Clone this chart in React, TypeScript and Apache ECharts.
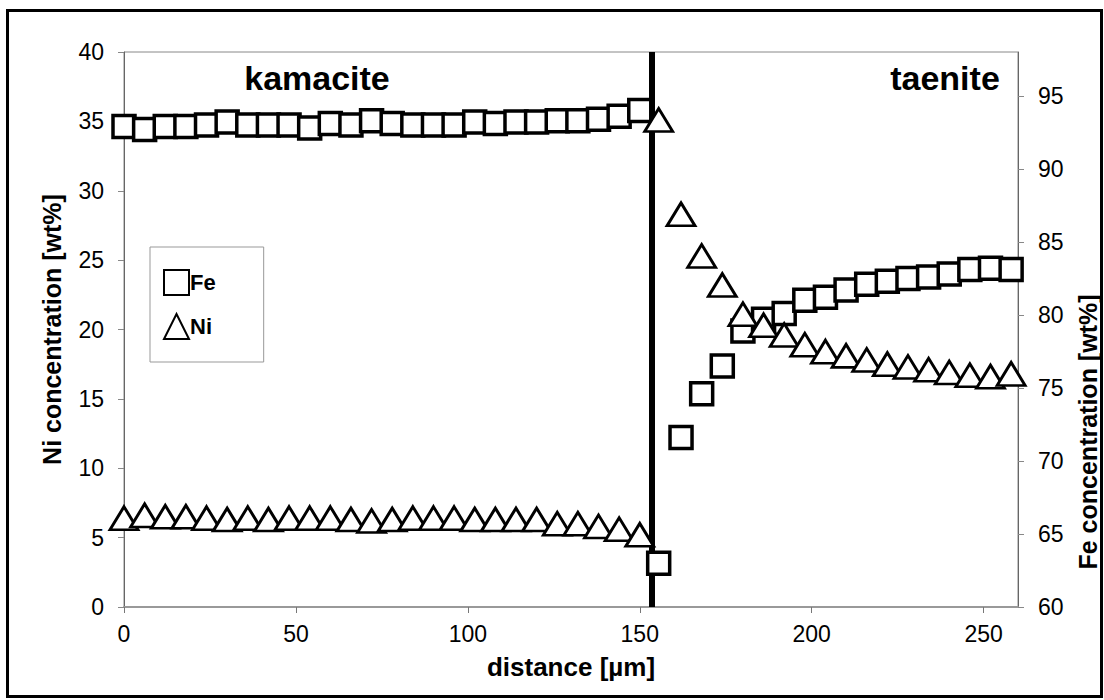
import React, { useEffect, useRef } from "react";
import * as echarts from "echarts";

const distance = [0, 6, 12, 18, 24, 30, 36, 42, 48, 54, 60, 66, 72, 78, 84, 90, 96, 102, 108, 114, 120, 126, 132, 138, 144, 150, 155.5, 162, 168, 174, 180, 186, 192, 198, 204, 210, 216, 222, 228, 234, 240, 246, 252, 258];
const feValues = [92.9, 92.7, 92.9, 92.9, 93.0, 93.2, 93.0, 93.0, 93.0, 92.8, 93.1, 93.0, 93.3, 93.1, 93.0, 93.0, 93.0, 93.2, 93.1, 93.2, 93.2, 93.3, 93.3, 93.4, 93.6, 94.0, 63.0, 71.6, 74.6, 76.5, 78.9, 79.7, 80.1, 81.0, 81.2, 81.7, 82.1, 82.3, 82.5, 82.6, 82.8, 83.1, 83.2, 83.1];
const niValues = [6.4, 6.6, 6.5, 6.5, 6.4, 6.3, 6.4, 6.3, 6.4, 6.4, 6.4, 6.3, 6.2, 6.3, 6.4, 6.4, 6.4, 6.3, 6.3, 6.3, 6.3, 6.0, 6.0, 5.8, 5.6, 5.2, 35.1, 28.3, 25.3, 23.2, 21.1, 20.3, 19.6, 18.9, 18.4, 18.1, 17.8, 17.5, 17.3, 17.1, 16.9, 16.7, 16.6, 16.8];
const boundary = 153.5;
const seriesNames = ["Fe", "Ni"];
const regionLabels = ["kamacite", "taenite"];

const FONT = "'Liberation Sans', Arial, sans-serif";

export default function App() {
  const ref = useRef<HTMLDivElement>(null);
  useEffect(() => {
    if (!ref.current) return;
    const chart = echarts.init(ref.current, undefined, { renderer: "svg" });
    const feData = distance.map((d, i) => [d, feValues[i]]);
    const niData = distance.map((d, i) => [d, niValues[i]]);
    chart.setOption({
      animation: false,
      backgroundColor: "#fff",
      textStyle: { fontFamily: FONT, color: "#000" },
      grid: {
        left: 124,
        right: 86,
        top: 52,
        bottom: 93,
        show: true,
        borderColor: "#888",
        borderWidth: 1,
      },
      legend: {
        orient: "vertical",
        left: 150,
        top: 247,
        padding: [22, 48, 22, 13],
        itemWidth: 25,
        itemHeight: 25,
        itemGap: 17,
        backgroundColor: "#fff",
        borderColor: "#999",
        borderWidth: 1,
        data: seriesNames,
        textStyle: { fontFamily: FONT, fontWeight: "bold", fontSize: 22, color: "#000", padding: [0, 0, 0, -4] },
      },
      xAxis: {
        type: "value",
        min: 0,
        max: 260,
        interval: 50,
        name: "distance [µm]",
        nameLocation: "middle",
        nameGap: 47,
        nameTextStyle: { fontFamily: FONT, fontWeight: "bold", fontSize: 26, color: "#000" },
        axisLine: { show: true, lineStyle: { color: "#999", width: 2 } },
        axisTick: { show: true, length: 6, lineStyle: { color: "#777" } },
        axisLabel: { fontFamily: FONT, fontSize: 23, color: "#000", margin: 15, showMaxLabel: false },
        splitLine: { show: false },
      },
      yAxis: [
        {
          type: "value",
          position: "left",
          min: 0,
          max: 40,
          interval: 5,
          name: "Ni concentration [wt%]",
          nameLocation: "middle",
          nameGap: 60,
          nameRotate: 90,
          nameTextStyle: { fontFamily: FONT, fontWeight: "bold", fontSize: 25, color: "#000" },
          axisLine: { show: true, lineStyle: { color: "#666", width: 1 } },
          axisTick: { show: true, length: 6, lineStyle: { color: "#888" } },
          axisLabel: { fontFamily: FONT, fontSize: 23, color: "#000", margin: 20 },
          splitLine: { show: false },
        },
        {
          type: "value",
          position: "right",
          min: 60,
          max: 98,
          interval: 5,
          axisLine: { show: true, lineStyle: { color: "#666", width: 1 } },
          axisTick: { show: true, length: 6, lineStyle: { color: "#888" } },
          axisLabel: { fontFamily: FONT, fontSize: 23, color: "#000", margin: 20, showMaxLabel: false },
          splitLine: { show: false },
        },
      ],
      series: [
        {
          name: seriesNames[0],
          type: "scatter",
          yAxisIndex: 1,
          symbol: "rect",
          symbolSize: 22,
          itemStyle: { color: "#fff", borderColor: "#000", borderWidth: 3.5, opacity: 1 },
          data: feData,
          z: 3,
          markLine: {
            silent: true,
            symbol: "none",
            label: { show: false },
            lineStyle: { color: "#000", width: 6, type: "solid" },
            data: [{ xAxis: boundary }],
            z: 2,
          },
        },
        {
          name: seriesNames[1],
          type: "scatter",
          yAxisIndex: 0,
          symbol: "triangle",
          symbolSize: [28, 23],
          itemStyle: { color: "#fff", borderColor: "#000", borderWidth: 2.8, opacity: 1 },
          data: niData,
          z: 4,
        },
      ],
      graphic: [
        {
          type: "rect",
          left: 5,
          top: 8,
          shape: { width: 1094, height: 686 },
          style: { fill: "none", stroke: "#000", lineWidth: 3 },
          silent: true,
          z: 10,
        },
        {
          type: "text",
          x: 317,
          y: 78,
          style: { text: regionLabels[0], fontFamily: FONT, fontWeight: "bold", fontSize: 34, fill: "#000", textAlign: "center", textVerticalAlign: "middle" },
        },
        {
          type: "text",
          x: 945,
          y: 78,
          style: { text: regionLabels[1], fontFamily: FONT, fontWeight: "bold", fontSize: 34, fill: "#000", textAlign: "center", textVerticalAlign: "middle" },
        },
        {
          type: "text",
          x: 1088,
          y: 432,
          rotation: Math.PI / 2,
          style: { text: "Fe concentration [wt%]", fontFamily: FONT, fontWeight: "bold", fontSize: 25, fill: "#000", textAlign: "center", textVerticalAlign: "middle" },
        },
      ],
    });
    return () => chart.dispose();
  }, []);
  return <div ref={ref} style={{ position: "absolute", left: 0, top: 0, width: 1104, height: 700 }} />;
}
